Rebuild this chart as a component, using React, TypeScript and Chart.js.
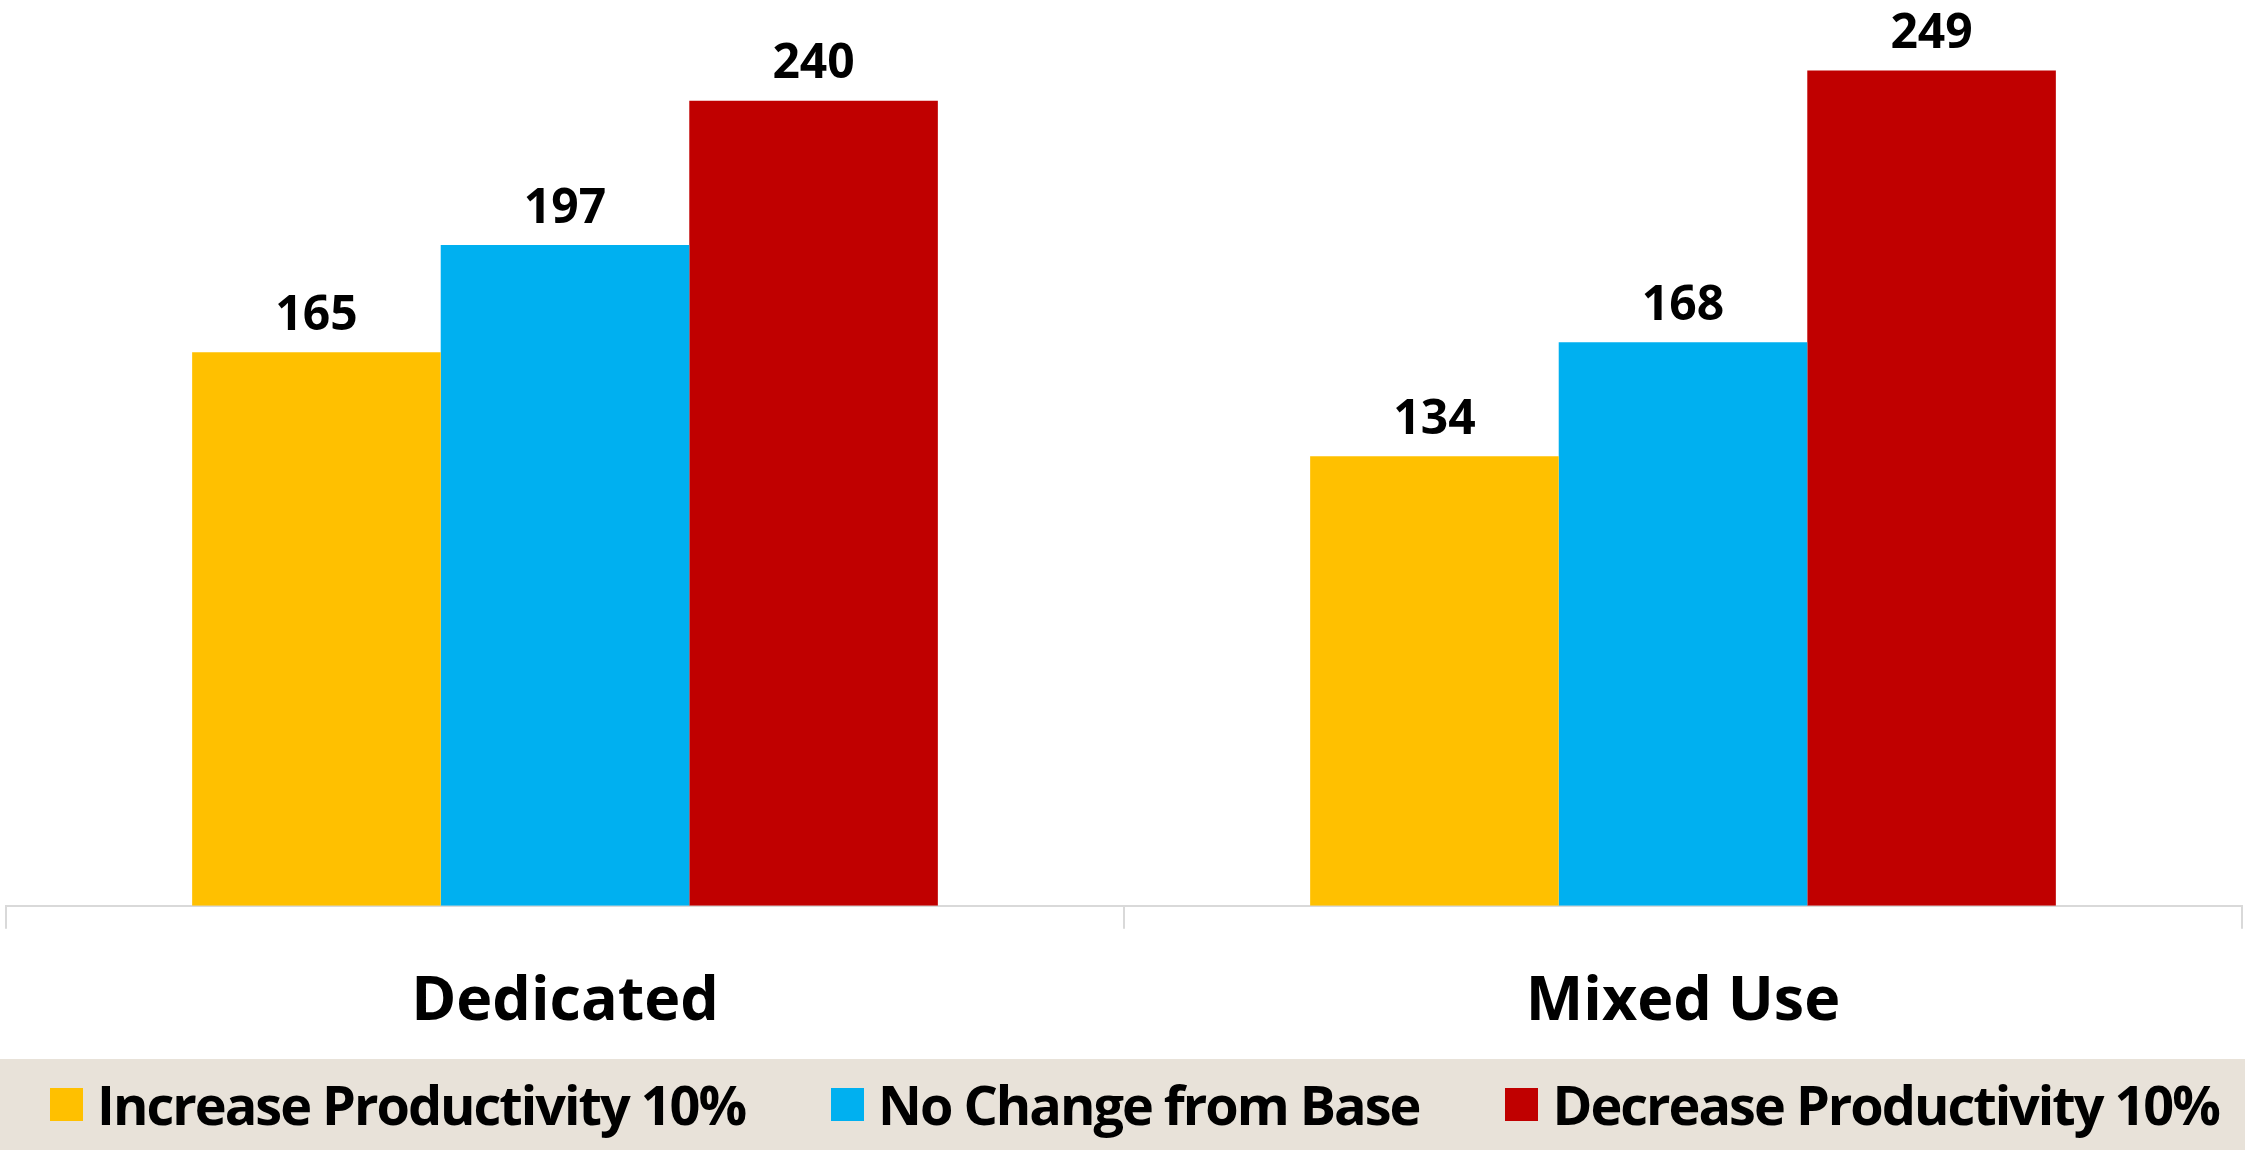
import React, { useEffect, useRef } from "react";
import { Chart, registerables } from "chart.js";

Chart.register(...registerables);

const categories = ["Dedicated", "Mixed Use"];
const seriesNames = ["Increase Productivity 10%", "No Change from Base", "Decrease Productivity 10%"];
const increaseValues = [165, 134];
const noChangeValues = [197, 168];
const decreaseValues = [240, 249];
const seriesColors = ["#FFC000", "#00B0F0", "#C00000"];

const FONT = "'Open Sans', 'DejaVu Sans', sans-serif";

const valueLabels = {
  id: "valueLabels",
  afterDatasetsDraw(chart: any) {
    const ctx = chart.ctx;
    ctx.save();
    ctx.font = `bold 48px ${FONT}`;
    ctx.fillStyle = "#000000";
    ctx.textAlign = "center";
    ctx.textBaseline = "middle";
    chart.data.datasets.forEach((ds: any, i: number) => {
      const meta = chart.getDatasetMeta(i);
      meta.data.forEach((el: any, j: number) => {
        ctx.fillText(String(ds.data[j]), el.x, el.y - 36);
      });
    });
    ctx.restore();
  },
};

export default function App() {
  const ref = useRef<HTMLCanvasElement | null>(null);

  useEffect(() => {
    if (!ref.current) return;
    const seriesData = [increaseValues, noChangeValues, decreaseValues];
    const chart = new Chart(ref.current, {
      type: "bar",
      data: {
        labels: categories,
        datasets: seriesNames.map((name, i) => ({
          label: name,
          data: seriesData[i],
          backgroundColor: seriesColors[i],
          borderWidth: 0,
          categoryPercentage: 0.667,
          barPercentage: 1.0,
        })),
      },
      options: {
        animation: false,
        responsive: false,
        maintainAspectRatio: false,
        devicePixelRatio: 1,
        layout: { padding: { left: 6, right: 3, top: 0, bottom: 74 } },
        plugins: {
          legend: { display: false },
          tooltip: { enabled: false },
          title: { display: false },
        },
        scales: {
          x: {
            border: { display: true, color: "#D9D9D9", width: 2 },
            grid: {
              display: true,
              drawOnChartArea: false,
              drawTicks: true,
              tickLength: 23,
              color: "#D9D9D9",
              lineWidth: 2,
              offset: true,
            },
            ticks: {
              color: "#000000",
              padding: 37,
              font: { family: FONT, size: 61, weight: "bold" },
            },
          },
          y: {
            display: false,
            min: 0,
            max: 270,
          },
        },
      },
      plugins: [valueLabels],
    });
    return () => chart.destroy();
  }, []);

  return (
    <div
      style={{
        position: "fixed",
        left: 0,
        top: 0,
        width: 2245,
        height: 1150,
        background: "#FFFFFF",
        overflow: "hidden",
      }}
    >
      <canvas ref={ref} width={2245} height={1150} style={{ display: "block", width: 2245, height: 1150 }} />
      <div
        style={{
          position: "absolute",
          left: 0,
          top: 1059,
          width: 2245,
          height: 91,
          background: "#E8E2D9",
          display: "flex",
          alignItems: "center",
          justifyContent: "center",
          boxSizing: "border-box",
          paddingLeft: 24,
          gap: 86,
          fontFamily: FONT,
          fontWeight: "bold",
          fontSize: 54,
          letterSpacing: "-2px",
          color: "#000000",
          whiteSpace: "nowrap",
        }}
      >
        {seriesNames.map((name, i) => (
          <div key={name} style={{ display: "flex", alignItems: "center" }}>
            <span
              style={{
                display: "inline-block",
                width: 33,
                height: 33,
                background: seriesColors[i],
                marginRight: 14,
              }}
            />
            <span style={{ lineHeight: "91px" }}>{name}</span>
          </div>
        ))}
      </div>
    </div>
  );
}
